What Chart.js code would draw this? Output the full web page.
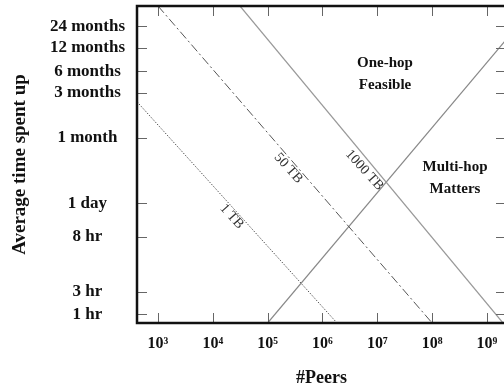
<!DOCTYPE html>
<html>
<head>
<meta charset="utf-8">
<script src="https://cdn.jsdelivr.net/npm/chart.js@4.4.1/dist/chart.umd.min.js"></script>
<style>
  html, body { margin: 0; padding: 0; background: #fff; overflow: hidden; width: 504px; height: 390px; }
  canvas { display: block; }
</style>
</head>
<body>
<canvas id="grafico" width="508" height="390"></canvas>
<script>
// ejes
const peerTicks = [1e3, 1e4, 1e5, 1e6, 1e7, 1e8, 1e9];
const timePos = [0.14, 0.49, 1.36, 1.89, 2.92, 3.63, 3.97, 4.34, 4.68];
const timeLabels = ['1 hr', '3 hr', '8 hr', '1 day', '1 month', '3 months', '6 months', '12 months', '24 months'];

// series (peers, posicion en el eje de tiempo)
const peers1TB = [414, 1.84e6];
const time1TB = [3.49, 0];
const peers50TB = [1e3, 1e8];
const time50TB = [5, 0];
const peers1000TB = [3.13e4, 1.96e9];
const time1000TB = [5, 0];
const peersMultiHop = [1e5, 2.24e9];
const timeMultiHop = [0, 4.47];

// etiquetas dentro del grafico
const lineLabels = ['1 TB', '50 TB', '1000 TB'];
const lineLabelPeers = [2.21e4, 2.38e5, 5.8e6];
const lineLabelTime = [1.68, 2.44, 2.41];
const regionLabels = [['One-hop', 'Feasible'], ['Multi-hop', 'Matters']];
const regionPeers = [1.38e7, 2.61e8];
const regionTime = [3.93, 2.28];

const SERIF = '"Liberation Serif", "DejaVu Serif", serif';
const sup = { 3: '\u00b3', 4: '\u2074', 5: '\u2075', 6: '\u2076', 7: '\u2077', 8: '\u2078', 9: '\u2079' };

function puntos(xs, ys) {
    return xs.map((v, i) => ({ x: v, y: ys[i] }));
}

// marco y marcas de los ejes hacia adentro
const marcoPlugin = {
    id: 'marco',
    afterDraw(chart) {
        const { ctx, chartArea: a, scales: { x, y } } = chart;
        ctx.save();
        ctx.strokeStyle = '#666';
        ctx.lineWidth = 1;
        ctx.beginPath();
        x.ticks.forEach(t => {
            const px = Math.round(x.getPixelForValue(t.value)) + 0.5;
            ctx.moveTo(px, a.bottom); ctx.lineTo(px, a.bottom - 10);
            ctx.moveTo(px, a.top); ctx.lineTo(px, a.top + 10);
        });
        y.ticks.forEach(t => {
            const py = Math.round(y.getPixelForValue(t.value)) + 0.5;
            ctx.moveTo(a.left, py); ctx.lineTo(a.left + 10, py);
            ctx.moveTo(a.right, py); ctx.lineTo(a.right - 10, py);
        });
        ctx.stroke();
        ctx.strokeStyle = '#111';
        ctx.lineWidth = 2.5;
        ctx.strokeRect(a.left, a.top, a.right - a.left, a.bottom - a.top);
        ctx.restore();
    }
};

// textos sobre las lineas y regiones
const textosPlugin = {
    id: 'textos',
    afterDatasetsDraw(chart) {
        const { ctx, scales: { x, y } } = chart;
        ctx.save();
        ctx.fillStyle = '#333';
        ctx.textAlign = 'center';
        ctx.textBaseline = 'middle';
        ctx.font = '14px ' + SERIF;
        lineLabels.forEach((txt, i) => {
            ctx.save();
            ctx.translate(x.getPixelForValue(lineLabelPeers[i]), y.getPixelForValue(lineLabelTime[i]));
            ctx.rotate(48 * Math.PI / 180);
            ctx.fillText(txt, 0, 0);
            ctx.restore();
        });
        ctx.fillStyle = '#111';
        ctx.font = 'bold 15px ' + SERIF;
        regionLabels.forEach((lineas, i) => {
            const px = x.getPixelForValue(regionPeers[i]);
            const py = y.getPixelForValue(regionTime[i]);
            ctx.fillText(lineas[0], px, py - 11);
            ctx.fillText(lineas[1], px, py + 11);
        });
        ctx.restore();
    }
};

new Chart(document.getElementById('grafico'), {
    type: 'line',
    data: {
        datasets: [
            { label: '1 TB', data: puntos(peers1TB, time1TB), borderColor: '#555', borderWidth: 1, borderDash: [1.5, 1.5] },
            { label: '50 TB', data: puntos(peers50TB, time50TB), borderColor: '#555', borderWidth: 1, borderDash: [9, 3, 2, 3] },
            { label: '1000 TB', data: puntos(peers1000TB, time1000TB), borderColor: '#999', borderWidth: 1.2 },
            { label: 'Multi-hop', data: puntos(peersMultiHop, timeMultiHop), borderColor: '#888', borderWidth: 1.2 }
        ]
    },
    options: {
        responsive: false,
        animation: false,
        layout: { padding: { top: 6, right: 2, left: 0, bottom: 0 } },
        elements: { point: { radius: 0 }, line: { tension: 0 } },
        plugins: { legend: { display: false }, tooltip: { enabled: false } },
        scales: {
            x: {
                type: 'logarithmic',
                min: Math.pow(10, 2.617),
                max: Math.pow(10, 9.347),
                afterBuildTicks: s => { s.ticks = peerTicks.map(v => ({ value: v })); },
                afterFit: s => { s.height = 67; s.paddingLeft = 0; s.paddingRight = 0; },
                grid: { display: false, drawTicks: false, tickLength: 0 },
                border: { display: false },
                ticks: {
                    autoSkip: false, maxRotation: 0, padding: 11, color: '#111',
                    font: { family: SERIF, size: 16, weight: 'bold' },
                    callback: v => '10' + sup[Math.round(Math.log10(v))]
                },
                title: {
                    display: true, text: '#Peers', color: '#111',
                    font: { family: SERIF, size: 18, weight: 'bold' },
                    padding: { top: 0, bottom: 1 }
                }
            },
            y: {
                type: 'linear',
                min: 0,
                max: 5,
                afterBuildTicks: s => { s.ticks = timePos.map(v => ({ value: v })); },
                afterFit: s => { s.width = 137; s.paddingTop = 0; s.paddingBottom = 0; },
                grid: { display: false, drawTicks: false, tickLength: 0 },
                border: { display: false },
                ticks: {
                    autoSkip: false, padding: 12, crossAlign: 'center', color: '#111',
                    font: { family: SERIF, size: 17, weight: 'bold' },
                    callback: (v, i) => timeLabels[i]
                },
                title: {
                    display: true, text: 'Average time spent up', color: '#111',
                    font: { family: SERIF, size: 19, weight: 'bold' },
                    padding: { top: 9, bottom: 0 }
                }
            }
        }
    },
    plugins: [marcoPlugin, textosPlugin]
});
</script>
</body>
</html>
